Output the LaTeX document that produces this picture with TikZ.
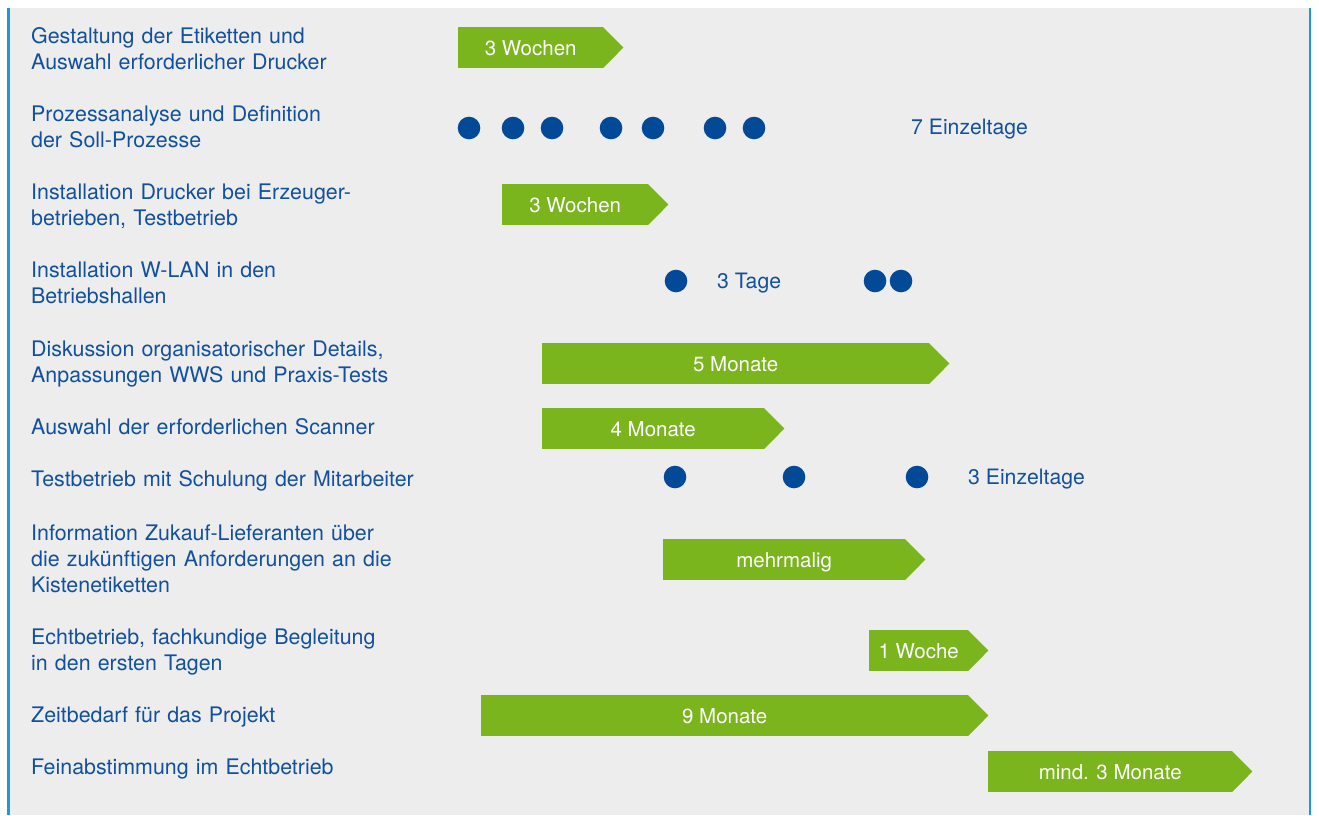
\documentclass[tikz,border=0pt]{standalone}
\usepackage{fontspec}
\setmainfont{TeX Gyre Heros}
\usetikzlibrary{calc}
\definecolor{panelgray}{HTML}{ECEDEC}
\definecolor{edgeblue}{HTML}{1A9BD7}
\definecolor{textblue}{HTML}{12509E}
\definecolor{dotblue}{HTML}{024A97}
\definecolor{bargreen}{HTML}{7AB51E}
\tikzset{
  task/.style={anchor=base west, inner sep=0pt, text width=460pt, align=left,
    text=textblue, font=\fontsize{21.4}{26}\selectfont},
  note/.style={anchor=base west, inner sep=0pt, text=textblue,
    font=\fontsize{21.2}{26}\selectfont},
  bar/.style={anchor=north west, fill=bargreen, inner sep=0pt,
    minimum height=41pt, text=white, text height=15pt, text depth=0pt,
    font=\fontsize{20.5}{24}\selectfont},
  tip/.style={fill=bargreen},
  dot/.style={circle, fill=dotblue, inner sep=0pt, minimum size=22.6pt},
}
% draw the arrow point on the right side of a bar node
\newcommand{\bartip}[1]{\fill[tip] ($(#1.north east)+(-0.6,0)$) -- ++(20.6,20.5) -- ($(#1.south east)+(-0.6,0)$) -- cycle;}
\begin{document}
\begin{tikzpicture}[x=1pt,y=-1pt]
  \useasboundingbox (0,0) rectangle (1319,815);
  \fill[white] (0,0) rectangle (1319,815);
  \fill[panelgray] (7,8) rectangle (1311,815);
  \fill[edgeblue] (7,8) rectangle (9.5,815);
  \fill[edgeblue] (1308.8,8) rectangle (1311.3,815);

  % task labels
  \node[task] (t1) at (31,43) {Gestaltung der Etiketten und\\Auswahl erforderlicher Drucker};
  \node[task] (t2) at (31,121) {Prozessanalyse und Definition\\der Soll-Prozesse};
  \node[task] (t3) at (31,199) {Installation Drucker bei Erzeuger-\\betrieben, Testbetrieb};
  \node[task] (t4) at (31,277) {Installation W-LAN in den\\Betriebshallen};
  \node[task] (t5) at (31,356) {Diskussion organisatorischer Details,\\Anpassungen WWS und Praxis-Tests};
  \node[task] (t6) at (31,434) {Auswahl der erforderlichen Scanner};
  \node[task] (t7) at (31,486) {Testbetrieb mit Schulung der Mitarbeiter};
  \node[task] (t8) at (31,540) {Information Zukauf-Lieferanten über\\die zukünftigen Anforderungen an die\\Kistenetiketten};
  \node[task] (t9) at (31,644) {Echtbetrieb, fachkundige Begleitung\\in den ersten Tagen};
  \node[task] (t10) at (31,722) {Zeitbedarf für das Projekt};
  \node[task] (t11) at (31,774) {Feinabstimmung im Echtbetrieb};

  % duration bars
  \node[bar, minimum width=145pt] (b1) at (458,27) {3 Wochen};
  \node[bar, minimum width=146pt] (b3) at (502,184) {3 Wochen};
  \node[bar, minimum width=387pt] (b5) at (542,343) {5 Monate};
  \node[bar, minimum width=222pt] (b6) at (542,408) {4 Monate};
  \node[bar, minimum width=242pt] (b8) at (663,539) {mehrmalig};
  \node[bar, minimum width=99pt] (b9) at (869,630) {1 Woche};
  \node[bar, minimum width=487pt] (b10) at (481,695) {9 Monate};
  \node[bar, minimum width=244pt] (b11) at (988,751) {mind. 3 Monate};
  \bartip{b1}\bartip{b3}\bartip{b5}\bartip{b6}
  \bartip{b8}\bartip{b9}\bartip{b10}\bartip{b11}

  % single days
  \node[dot] (d21) at (469,128) {};
  \node[dot] (d22) at (513,128) {};
  \node[dot] (d23) at (552,128) {};
  \node[dot] (d24) at (611,128) {};
  \node[dot] (d25) at (653,128) {};
  \node[dot] (d26) at (715,128) {};
  \node[dot] (d27) at (754,128) {};
  \node[note] (n2) at (911,134) {7 Einzeltage};

  \node[dot] (d41) at (676,281) {};
  \node[note] (n4) at (717,288) {3 Tage};
  \node[dot] (d42) at (875,281) {};
  \node[dot] (d43) at (901,281) {};

  \node[dot] (d71) at (675,477) {};
  \node[dot] (d72) at (794,477) {};
  \node[dot] (d73) at (917,477) {};
  \node[note] (n7) at (968,484) {3 Einzeltage};
\end{tikzpicture}
\end{document}
